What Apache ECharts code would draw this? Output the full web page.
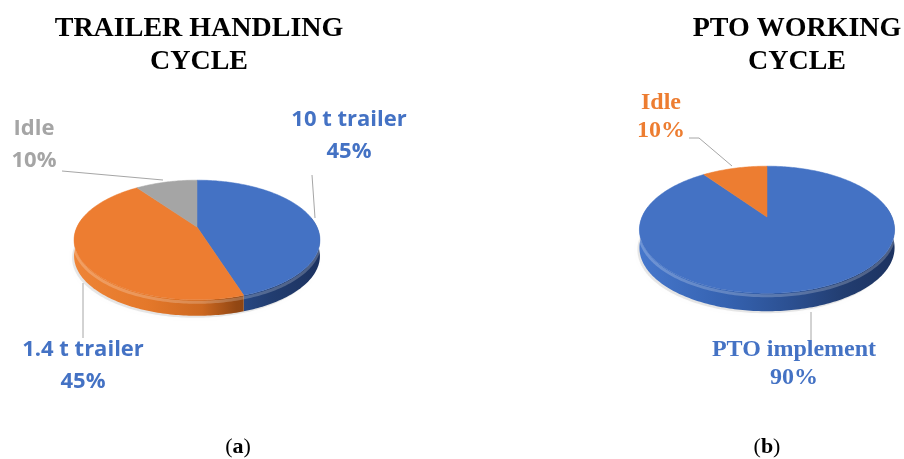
<!DOCTYPE html>
<html><head><meta charset="utf-8">
<script src="https://cdn.jsdelivr.net/npm/echarts@6/dist/echarts.min.js"></script>
<style>html,body{margin:0;padding:0;background:#fff}#c{width:904px;height:459px}</style>
</head><body><div id="c"></div>
<script>
// ---- data ----
const titleA = 'TRAILER HANDLING\nCYCLE';
const titleB = 'PTO WORKING\nCYCLE';
const captionA = 'a';
const captionB = 'b';
const namesA = ['10 t trailer', '1.4 t trailer', 'Idle'];
const valuesA = [45, 45, 10];
const namesB = ['PTO implement', 'Idle'];
const valuesB = [90, 10];

// ---- layout / style ----
const pieA = {cx: 197, cy: 227, rx: 120, ry: 57, p: -0.217, h: 16};
const pieB = {cx: 767, cy: 217, rx: 125, ry: 61, p: -0.2, h: 18};
const topColorsA = ['#4472C4', '#ED7D31', '#A5A5A5'];
const topColorsB = ['#4472C4', '#ED7D31'];
const blueSide = [[0, '#4677cc'], [0.35, '#3562b0'], [0.6, '#2b4f90'], [0.8, '#223d70'], [1, '#1c3260']];
const orangeSide = [[0, '#ee8437'], [0.3, '#e4782a'], [0.52, '#cd6820'], [0.66, '#924713'], [1, '#6a300a']];
const graySide = [[0, '#b0b0b0'], [1, '#6e6e6e']];
const sideA = [blueSide, orangeSide, graySide];
const sideB = [blueSide, orangeSide];
const sansFont = 'bold 22px "Open Sans"';
const serifFont = 'bold 24px "Liberation Serif"';
const labelsA = [
  {x: 349, y: 103.5, color: '#4472C4', font: sansFont, lh: 32, line: [[312, 175], [315, 218]]},
  {x: 83, y: 333.5, color: '#4472C4', font: sansFont, lh: 32, line: [[83, 283], [83, 338]]},
  {x: 34, y: 112.5, color: '#A5A5A5', font: sansFont, lh: 32, line: [[62, 171], [163, 180]]}
];
const labelsB = [
  {x: 794, y: 336, color: '#4472C4', font: serifFont, lh: 28, line: [[811, 312], [811, 340]]},
  {x: 661, y: 89, color: '#ED7D31', font: serifFont, lh: 28, line: [[689, 138], [699, 138], [732, 166]]}
];

function proj(P, deg, dy) {
  const t = deg * Math.PI / 180;
  const u = Math.sin(t), v = -Math.cos(t);
  const d = 1 + P.p * v;
  return [P.cx + P.rx * u / d, P.cy + P.ry * v / d + (dy || 0)];
}
function arc(P, a, b, dy) {
  const pts = [];
  const n = Math.max(2, Math.ceil(Math.abs(b - a)));
  for (let k = 0; k <= n; k++) pts.push(proj(P, a + (b - a) * k / n, dy));
  return pts;
}
function buildData(values) {
  const total = values.reduce((s, v) => s + v, 0);
  let cum = 0;
  return values.map(v => { const r = [v, cum, total]; cum += v; return r; });
}
function sideSeries(P, stops) {
  return {
    type: 'custom', coordinateSystem: 'none', z: 2, silent: true,
    renderItem: function (params, api) {
      const v = api.value(0), s = api.value(1), tot = api.value(2);
      const a = s / tot * 360, b = (s + v) / tot * 360;
      const children = [];
      if (params.dataIndex === 0) {
        children.push({type: 'polygon', z2: 0, shape: {points: arc(P, 0, 360, P.h + 2).map(q => [q[0] - 2, q[1]])},
          style: {fill: 'rgba(0,0,0,0.09)', shadowBlur: 9, shadowColor: 'rgba(0,0,0,0.22)'}});
      }
      const lo = Math.max(a, 80), hi = Math.min(b, 280);
      if (lo < hi) {
        const pts = arc(P, lo, hi, 0).concat(arc(P, hi, lo, P.h));
        const w = P.rx * 1.03;
        children.push({type: 'polygon', z2: 1, shape: {points: pts},
          style: {fill: {type: 'linear', x: P.cx - w, y: 0, x2: P.cx + w, y2: 0, global: true,
            colorStops: stops[params.dataIndex].map(c => ({offset: c[0], color: c[1]}))}}});
        children.push({type: 'polyline', z2: 2, shape: {points: arc(P, lo, hi, 2.5)},
          style: {fill: null, stroke: 'rgba(255,255,255,0.22)', lineWidth: 3}});
      }
      return {type: 'group', children: children};
    }
  };
}
function topSeries(P, colors, names, labels) {
  return {
    type: 'custom', coordinateSystem: 'none', z: 3, silent: true,
    renderItem: function (params, api) {
      const i = params.dataIndex;
      const v = api.value(0), s = api.value(1), tot = api.value(2);
      const a = s / tot * 360, b = (s + v) / tot * 360;
      const pts = [[P.cx, P.cy]].concat(arc(P, a, b, 0));
      const L = labels[i];
      return {type: 'group', children: [
        {type: 'polygon', shape: {points: pts}, style: {fill: colors[i], stroke: colors[i], lineWidth: 0.5}},
        {type: 'polyline', shape: {points: L.line}, style: {fill: null, stroke: '#A6A6A6', lineWidth: 1}},
        {type: 'text', x: L.x, y: L.y, style: {
          text: names[i] + '\n' + Math.round(v / tot * 100) + '%',
          fill: L.color, font: L.font, lineHeight: L.lh, align: 'center', verticalAlign: 'top'}}
      ]};
    }
  };
}

const dataA = buildData(valuesA);
const dataB = buildData(valuesB);
const sA = sideSeries(pieA, sideA); sA.data = dataA;
const sB = sideSeries(pieB, sideB); sB.data = dataB;
const tA = topSeries(pieA, topColorsA, namesA, labelsA); tA.data = dataA;
const tB = topSeries(pieB, topColorsB, namesB, labelsB); tB.data = dataB;

const titleStyle = {font: 'bold 28px "Liberation Serif"', fill: '#000', align: 'center', verticalAlign: 'top', lineHeight: 33};
const capRich = {p: {fontFamily: 'Liberation Serif', fontSize: 22, color: '#000'},
                 b: {fontFamily: 'Liberation Serif', fontSize: 22, fontWeight: 'bold', color: '#000'}};

const chart = echarts.init(document.getElementById('c'), null, {renderer: 'canvas'});
chart.setOption({
  animation: false,
  backgroundColor: '#fff',
  graphic: [
    {type: 'text', x: 199, y: 12, style: Object.assign({text: titleA}, titleStyle)},
    {type: 'text', x: 797, y: 12, style: Object.assign({text: titleB}, titleStyle)},
    {type: 'text', x: 238, y: 447, style: {text: '{p|(}{b|' + captionA + '}{p|)}', rich: capRich, align: 'center', verticalAlign: 'middle'}},
    {type: 'text', x: 767, y: 447, style: {text: '{p|(}{b|' + captionB + '}{p|)}', rich: capRich, align: 'center', verticalAlign: 'middle'}}
  ],
  series: [sA, sB, tA, tB]
});
</script></body></html>
